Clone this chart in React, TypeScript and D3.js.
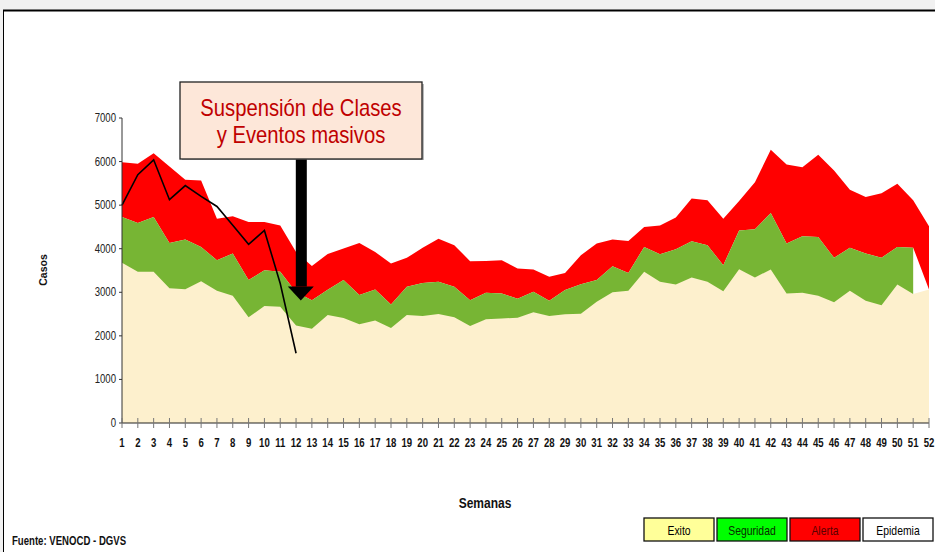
import React from "react";
import * as d3 from "d3";

const weeks = [1,2,3,4,5,6,7,8,9,10,11,12,13,14,15,16,17,18,19,20,21,22,23,24,25,26,27,28,29,30,31,32,33,34,35,36,37,38,39,40,41,42,43,44,45,46,47,48,49,50,51,52];
const exito = [3680,3470,3470,3090,3070,3255,3035,2920,2425,2685,2670,2235,2165,2480,2410,2265,2350,2180,2480,2455,2500,2425,2225,2380,2400,2415,2540,2455,2495,2510,2780,3000,3035,3470,3240,3180,3340,3240,3025,3530,3340,3525,2975,2990,2920,2770,3035,2805,2705,3180,2960,3065];
const seguridad: (number | null)[] = [4730,4590,4730,4130,4210,4040,3735,3890,3280,3505,3470,3000,2820,3060,3280,2935,3065,2720,3125,3215,3240,3125,2820,2990,2975,2850,3010,2805,3050,3185,3280,3600,3445,4040,3875,3990,4170,4080,3620,4420,4445,4820,4120,4285,4270,3790,4025,3890,3795,4040,4025,null];
const alerta = [5985,5950,6190,5885,5580,5565,4690,4745,4615,4615,4535,3925,3605,3880,4005,4130,3925,3660,3790,4020,4230,4080,3715,3720,3735,3545,3525,3355,3445,3850,4120,4210,4175,4500,4535,4715,5150,5110,4690,5095,5525,6270,5930,5870,6155,5795,5355,5185,5275,5490,5110,4515];
const epidemia: (number | null)[] = [5000,5700,6040,5125,5450,5200,4970,4540,4100,4420,3200,1600,null,null,null,null,null,null,null,null,null,null,null,null,null,null,null,null,null,null,null,null,null,null,null,null,null,null,null,null,null,null,null,null,null,null,null,null,null,null,null,null];
const yTicks = [0,1000,2000,3000,4000,5000,6000,7000];
const legendItems = ["Exito","Seguridad","Alerta","Epidemia"];
const legendFill = ["#ffff99","#00ff00","#ff0000","#ffffff"];
const legendText = ["#000000","#0a2a00","#5a0000","#000000"];
const annotationLines = ["Suspensión de Clases","y Eventos masivos"];
const arrowWeek = 12.3;
const arrowValue = 2810;

const SANS = "'Liberation Sans',Arial,sans-serif";

function NText(props: { x: number; y: number; anchor?: string; size: number; bold?: boolean; fill?: string; sx?: number; children: any }) {
  const { x, y, anchor = "start", size, bold, fill = "#111", sx = 0.8, children } = props;
  return (
    <text transform={`translate(${x},${y}) scale(${sx},1)`} textAnchor={anchor as any} fontFamily={SANS} fontSize={size} fontWeight={bold ? "bold" : "normal"} fill={fill}>
      {children}
    </text>
  );
}

export default function App() {
  const x = d3.scaleLinear().domain([1, 52]).range([122, 929]);
  const y = d3.scaleLinear().domain([0, 7000]).range([423, 118]);
  const rows = weeks.map((w, i) => ({ w, e: exito[i], s: seguridad[i], a: alerta[i], p: epidemia[i] }));

  const beigeArea = d3.area<any>().x(d => x(d.w)).y0(y(0)).y1(d => y(d.e))(rows) || "";
  const greenArea = d3.area<any>().defined(d => d.s != null).x(d => x(d.w)).y0(y(0)).y1(d => y(d.s))(rows) || "";
  const redArea = d3.area<any>().x(d => x(d.w)).y0(d => y(d.s != null ? d.s : d.e)).y1(d => y(d.a))(rows) || "";
  const epiLine = d3.line<any>().defined(d => d.p != null).x(d => x(d.w)).y(d => y(d.p))(rows) || "";

  const ax = x(arrowWeek);
  const tipY = y(arrowValue);

  return (
    <svg width={935} height={552} style={{ position: "absolute", left: 0, top: 0 }}>
      <rect x={0} y={0} width={935} height={552} fill="#f1f1f1" />
      <rect x={3.5} y={10.5} width={940} height={560} fill="#ffffff" stroke="#000" strokeWidth={1} />
      <line x1={3} x2={935} y1={10.5} y2={10.5} stroke="#000" strokeWidth={2} />

      <path d={redArea} fill="#ff0000" />
      <path d={greenArea} fill="#77b534" />
      <path d={beigeArea} fill="#fdf0cd" />
      <path d={epiLine} fill="none" stroke="#000" strokeWidth={1.6} />

      {/* y axis */}
      <line x1={122} x2={122} y1={y(7000)} y2={y(0)} stroke="#333" strokeWidth={1} />
      {yTicks.map(t => (
        <g key={t}>
          <line x1={119} x2={122} y1={y(t)} y2={y(t)} stroke="#333" />
          <NText x={116} y={y(t) + 4} anchor="end" size={12} fill="#222">{t}</NText>
        </g>
      ))}
      {/* x axis */}
      <line x1={122} x2={929} y1={y(0)} y2={y(0)} stroke="#222" strokeWidth={1.2} />
      {weeks.map(w => (
        <g key={w}>
          <line x1={x(w)} x2={x(w)} y1={y(0) - 5} y2={y(0) + 5} stroke="#777" />
          <NText x={x(w)} y={447} anchor="middle" size={12} bold fill="#111">{w}</NText>
        </g>
      ))}

      <text transform="translate(47,270) rotate(-90)" textAnchor="middle" fontFamily={SANS} fontWeight="bold" fontSize={10.5} fill="#111">Casos</text>
      <NText x={485} y={508} anchor="middle" size={15} bold>Semanas</NText>
      <NText x={12} y={545} size={12} bold>Fuente: VENOCD - DGVS</NText>

      {/* arrow */}
      <rect x={ax - 5} y={159} width={11} height={tipY - 14 - 159} fill="#000" />
      <path d={`M${ax - 13},${tipY - 14} L${ax + 13},${tipY - 14} L${ax},${tipY} Z`} fill="#000" />

      {/* annotation box */}
      <rect x={182} y={84} width={242} height={76} fill="#8a8a8a" opacity={0.6} />
      <rect x={180} y={82} width={242} height={77} fill="#fde7d9" stroke="#222" strokeWidth={1.3} />
      {annotationLines.map((t, i) => (
        <NText key={i} x={301} y={116 + i * 27} anchor="middle" size={23} sx={0.88} fill="#c00000">{t}</NText>
      ))}

      {/* legend */}
      {legendItems.map((t, i) => {
        const bx = 644 + i * 73;
        return (
          <g key={t}>
            <rect x={bx} y={518} width={70} height={23} fill={legendFill[i]} stroke="#111" strokeWidth={1.3} />
            <NText x={bx + 35} y={534.5} anchor="middle" size={13} fill={legendText[i]}>{t}</NText>
          </g>
        );
      })}
    </svg>
  );
}
